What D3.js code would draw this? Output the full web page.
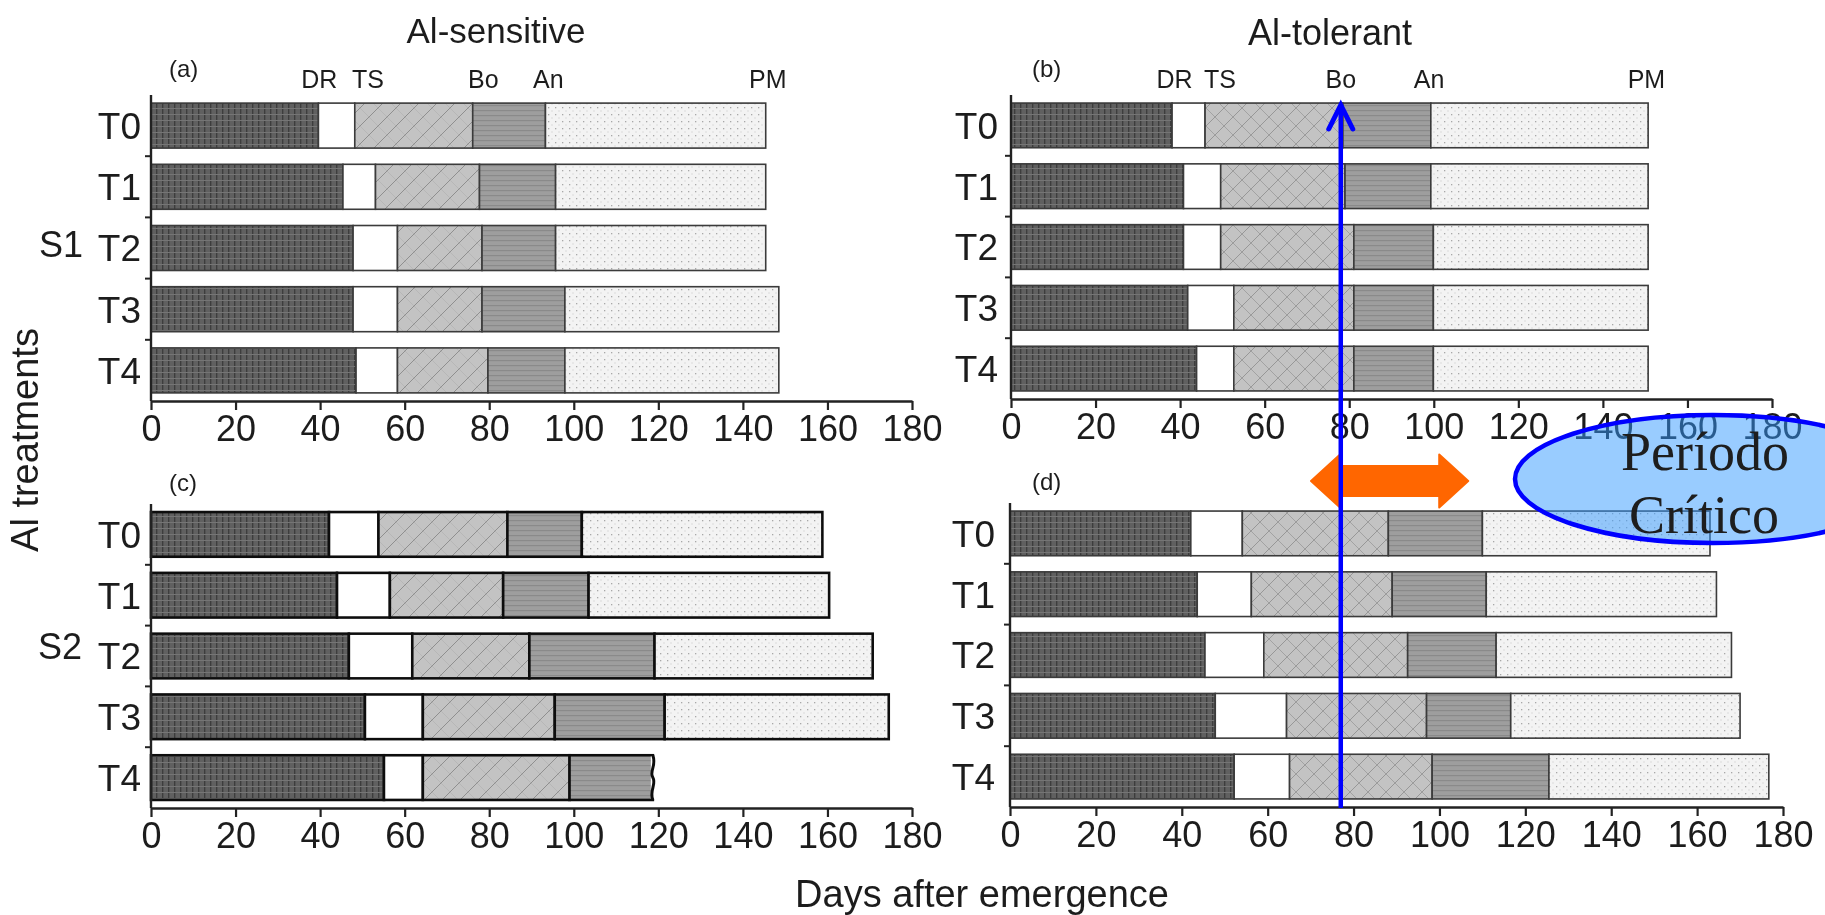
<!DOCTYPE html>
<html>
<head>
<meta charset="utf-8">
<script src="https://cdn.jsdelivr.net/npm/d3@7"></script>
<style>
  html, body { margin: 0; padding: 0; background: #ffffff; }
  svg { display: block; }
  text { font-family: "Liberation Sans", Arial, sans-serif; fill: #1e1e1e; }
</style>
</head>
<body>
<svg id="chart" width="1825" height="915"></svg>
<script>
// Treatments on the y axis and the phenological stage names
const treatments = ["T0", "T1", "T2", "T3", "T4"];
const stageNames = ["DR", "TS", "Bo", "An", "PM"];
const xTicks = [0, 20, 40, 60, 80, 100, 120, 140, 160, 180];

// Day after emergence at which each stage is reached (DR, TS, Bo, An, PM), per treatment
const s1Sensitive = [
  [39.6, 48.2, 76.1, 93.3, 145.4],
  [45.4, 53.1, 77.7, 95.7, 145.4],
  [47.8, 58.3, 78.3, 95.7, 145.4],
  [47.8, 58.3, 78.3, 97.9, 148.5],
  [48.5, 58.3, 79.7, 97.9, 148.5]
];
const s1Tolerant = [
  [38.1, 45.9, 78.5, 99.3, 150.7],
  [40.8, 49.6, 79.0, 99.3, 150.7],
  [40.8, 49.6, 81.1, 99.9, 150.7],
  [41.8, 52.7, 81.1, 99.9, 150.7],
  [43.9, 52.7, 81.1, 99.9, 150.7]
];
const s2Sensitive = [
  [42.1, 53.8, 84.3, 101.9, 158.8],
  [44.0, 56.5, 83.3, 103.5, 160.4],
  [46.8, 61.8, 89.5, 119.1, 170.7],
  [50.6, 64.3, 95.5, 121.5, 174.5],
  [55.1, 64.3, 99.0, 118.7, null]   // plants died before maturity
];
const s2Tolerant = [
  [42.1, 54.1, 88.1, 110.0, 163.0],
  [43.6, 56.2, 89.0, 110.9, 164.5],
  [45.4, 59.1, 92.6, 113.2, 168.0],
  [47.8, 64.4, 97.0, 116.6, 170.0],
  [52.2, 65.1, 98.3, 125.5, 176.7]
];

// Stage label positions (days) written above the top panels
const sensitiveStageLabelDays = [39.8, 51.3, 78.6, 94.0, 145.9];
const tolerantStageLabelDays = [38.7, 49.4, 78.0, 98.9, 150.3];

// Critical period annotation (days, tolerant S2 axis) and Bo marker day (tolerant S1 axis)
const criticalPeriod = [70.1, 106.7];
const boMarkerDay = 78;

const svg = d3.select("#chart");
const defs = svg.append("defs");

// ---- fill patterns for the five phases ----
function pat(id, w, h, draw) {
  const p = defs.append("pattern").attr("id", id).attr("patternUnits", "userSpaceOnUse")
    .attr("width", w).attr("height", h);
  draw(p);
}
pat("ph1", 6, 6, p => {
  p.append("rect").attr("width", 6).attr("height", 6).attr("fill", "#606060");
  p.append("rect").attr("x", 0).attr("width", 1.4).attr("height", 6).attr("fill", "#3c3c3c");
  p.append("rect").attr("y", 0).attr("width", 6).attr("height", 1).attr("fill", "#747474");
});
// single diagonal hatch (sensitive genotype)
pat("ph3", 18, 18, p => {
  p.append("rect").attr("width", 18).attr("height", 18).attr("fill", "#c3c3c3");
  p.append("path").attr("d", "M0,18 L18,0 M-4,4 L4,-4 M14,22 L22,14").attr("stroke", "#8f8f8f").attr("stroke-width", 1);
  p.append("path").attr("d", "M0,0 L18,18 M-4,14 L4,22 M14,-4 L22,4").attr("stroke", "#b4b4b4").attr("stroke-width", 0.8);
});
// cross hatch (tolerant genotype)
pat("ph3x", 18, 18, p => {
  p.append("rect").attr("width", 18).attr("height", 18).attr("fill", "#c3c3c3");
  p.append("path").attr("d", "M0,18 L18,0 M-4,4 L4,-4 M14,22 L22,14").attr("stroke", "#979797").attr("stroke-width", 1);
  p.append("path").attr("d", "M0,0 L18,18 M-4,14 L4,22 M14,-4 L22,4").attr("stroke", "#a2a2a2").attr("stroke-width", 1);
});
pat("ph4", 8, 5, p => {
  p.append("rect").attr("width", 8).attr("height", 5).attr("fill", "#9e9e9e");
  p.append("rect").attr("y", 0).attr("width", 8).attr("height", 1.2).attr("fill", "#8a8a8a");
});
pat("ph5", 7, 7, p => {
  p.append("rect").attr("width", 7).attr("height", 7).attr("fill", "#f3f3f3");
  p.append("rect").attr("x", 2).attr("y", 2).attr("width", 1.3).attr("height", 1.3).attr("fill", "#a8a8a8");
  p.append("rect").attr("x", 5.5).attr("y", 5.5).attr("width", 1).attr("height", 1).attr("fill", "#c4c4c4");
});
const fillsSensitive = ["url(#ph1)", "#ffffff", "url(#ph3)", "url(#ph4)", "url(#ph5)"];
const fillsTolerant = ["url(#ph1)", "#ffffff", "url(#ph3x)", "url(#ph4)", "url(#ph5)"];

defs.append("filter").attr("id", "soft").attr("x", "-2%").attr("y", "-2%").attr("width", "104%").attr("height", "104%")
  .append("feGaussianBlur").attr("stdDeviation", 0.7);

const chart = svg.append("g").attr("filter", "url(#soft)");

// ---- panel layout ----
const panels = [
  { data: s1Sensitive, fills: fillsSensitive, x0: 151, x1: 912, y0: 95, y1: 401, tag: "(a)", tagX: 169, tagY: 77, stroke: "#3a3a3a", sw: 1.6, tLabelGap: 10 },
  { data: s1Tolerant,  fills: fillsTolerant,  x0: 1011, x1: 1772, y0: 95, y1: 399, tag: "(b)", tagX: 1032, tagY: 77, stroke: "#3a3a3a", sw: 1.6, tLabelGap: 13 },
  { data: s2Sensitive, fills: fillsSensitive, x0: 151, x1: 912, y0: 504, y1: 808, tag: "(c)", tagX: 169, tagY: 491, stroke: "#111111", sw: 2.6, tLabelGap: 10 },
  { data: s2Tolerant,  fills: fillsTolerant,  x0: 1010, x1: 1783, y0: 503, y1: 807, tag: "(d)", tagX: 1032, tagY: 490, stroke: "#3a3a3a", sw: 1.6, tLabelGap: 15 }
];

panels.forEach(pn => {
  const g = chart.append("g");
  const x = d3.scaleLinear().domain([0, 180]).range([pn.x0, pn.x1]);
  const y = d3.scaleBand().domain(treatments).range([pn.y0, pn.y1]).paddingInner(0.265).paddingOuter(0.1325);
  pn.x = x; pn.y = y;

  // bars: one segment per phase
  treatments.forEach((t, i) => {
    const ends = pn.data[i];
    const starts = [0].concat(ends.slice(0, 4));
    ends.forEach((e, k) => {
      if (e == null) return;
      g.append("rect")
        .attr("x", x(starts[k])).attr("y", y(t))
        .attr("width", x(e) - x(starts[k])).attr("height", y.bandwidth())
        .attr("fill", pn.fills[k])
        .attr("stroke", pn.stroke).attr("stroke-width", pn.sw);
    });
    if (ends[4] == null) {
      // broken end of an interrupted bar
      const xe = x(ends[3]);
      const yt = y(t), h = y.bandwidth();
      g.append("rect").attr("x", xe - 2).attr("y", yt + 1).attr("width", 5).attr("height", h - 2).attr("fill", "#ffffff");
      const path = d3.path();
      path.moveTo(xe, yt);
      path.bezierCurveTo(xe + 4, yt + h * 0.25, xe - 4, yt + h * 0.35, xe, yt + h * 0.5);
      path.bezierCurveTo(xe + 4, yt + h * 0.65, xe - 4, yt + h * 0.8, xe, yt + h);
      g.append("path").attr("d", path.toString()).attr("fill", "none").attr("stroke", "#111").attr("stroke-width", 3);
    }
  });

  // x axis
  const xa = g.append("g").attr("transform", `translate(0,${pn.y1})`)
    .call(d3.axisBottom(x).tickValues(xTicks).tickSize(9).tickPadding(5).tickSizeOuter(0));
  xa.select(".domain").attr("stroke", "#222").attr("stroke-width", 2.6);
  xa.selectAll(".tick line").attr("stroke", "#222").attr("stroke-width", 2.2);
  xa.selectAll(".tick text").attr("font-size", 36).attr("fill", "#1e1e1e")
    .style("font-family", "'Liberation Sans', Arial, sans-serif");

  // y axis: line with ticks at band boundaries
  g.append("line").attr("x1", pn.x0).attr("x2", pn.x0).attr("y1", pn.y0).attr("y2", pn.y1)
    .attr("stroke", "#222").attr("stroke-width", 2.4);
  treatments.slice(1).forEach(t => {
    const yb = y(t) - y.step() * y.paddingInner() / 2;
    g.append("line").attr("x1", pn.x0 - 6).attr("x2", pn.x0).attr("y1", yb).attr("y2", yb)
      .attr("stroke", "#222").attr("stroke-width", 2);
  });
  treatments.forEach(t => {
    g.append("text").attr("x", pn.x0 - pn.tLabelGap).attr("y", y(t) + y.bandwidth() / 2)
      .attr("dy", "0.36em").attr("text-anchor", "end").attr("font-size", 37).text(t);
  });

  // panel tag
  g.append("text").attr("x", pn.tagX).attr("y", pn.tagY).attr("font-size", 24).text(pn.tag);
});

// stage names above the top panels
[[panels[0], sensitiveStageLabelDays], [panels[1], tolerantStageLabelDays]].forEach(([pn, days]) => {
  stageNames.forEach((s, i) => {
    chart.append("text").attr("x", pn.x(days[i])).attr("y", 88)
      .attr("text-anchor", "middle").attr("font-size", 25).text(s);
  });
});

// column titles
chart.append("text").attr("x", 496).attr("y", 43).attr("text-anchor", "middle").attr("font-size", 35).text("Al-sensitive");
chart.append("text").attr("x", 1330).attr("y", 45).attr("text-anchor", "middle").attr("font-size", 36).text("Al-tolerant");

// sowing labels
chart.append("text").attr("x", 61).attr("y", panels[0].y("T2") + panels[0].y.bandwidth() / 2 - 4)
  .attr("dy", "0.36em").attr("text-anchor", "middle").attr("font-size", 36).text("S1");
chart.append("text").attr("x", 60).attr("y", panels[2].y("T2") + panels[2].y.bandwidth() / 2 - 10)
  .attr("dy", "0.36em").attr("text-anchor", "middle").attr("font-size", 36).text("S2");

// shared axis titles
chart.append("text").attr("transform", "translate(38,440) rotate(-90)").attr("text-anchor", "middle")
  .attr("font-size", 38).text("Al treatments");
chart.append("text").attr("x", 982).attr("y", 907).attr("text-anchor", "middle")
  .attr("font-size", 38).text("Days after emergence");

// ---- annotations ----
const ann = svg.append("g");

// critical period ellipse
ann.append("ellipse").attr("cx", 1713).attr("cy", 479).attr("rx", 198).attr("ry", 64)
  .attr("fill", "#3399ff").attr("fill-opacity", 0.5)
  .attr("stroke", "#0000ff").attr("stroke-width", 4.5);
ann.append("text").attr("x", 1705).attr("y", 470).attr("text-anchor", "middle")
  .style("font-family", "'Liberation Serif', 'Times New Roman', serif").attr("font-size", 54).attr("fill", "#000").text("Período");
ann.append("text").attr("x", 1704).attr("y", 533).attr("text-anchor", "middle")
  .style("font-family", "'Liberation Serif', 'Times New Roman', serif").attr("font-size", 54).attr("fill", "#000").text("Crítico");

// double-headed orange arrow over the critical period
{
  const xd = panels[3].x;
  const xl = xd(criticalPeriod[0]), xr = xd(criticalPeriod[1]);
  const cy = 481, head = 29, hh = 26.5, sh = 15;
  const pts = [
    [xl, cy], [xl + head, cy - hh], [xl + head, cy - sh], [xr - head, cy - sh], [xr - head, cy - hh],
    [xr, cy], [xr - head, cy + hh], [xr - head, cy + sh], [xl + head, cy + sh], [xl + head, cy + hh]
  ];
  ann.append("path").attr("d", d3.line()(pts) + "Z").attr("fill", "#ff6600")
    .attr("stroke", "#ff6600").attr("stroke-width", 2).attr("stroke-linejoin", "round");
}

// blue vertical marker at booting
{
  const xb = panels[1].x(boMarkerDay);
  const top = 105;
  ann.append("line").attr("x1", xb).attr("x2", xb).attr("y1", top + 2).attr("y2", 808)
    .attr("stroke", "#0000ff").attr("stroke-width", 4.5);
  ann.append("path").attr("d", `M${xb - 12},${top + 24} L${xb},${top} L${xb + 12},${top + 24}`)
    .attr("fill", "none").attr("stroke", "#0000ff").attr("stroke-width", 5)
    .attr("stroke-linecap", "round").attr("stroke-linejoin", "miter");
}
</script>
</body>
</html>
